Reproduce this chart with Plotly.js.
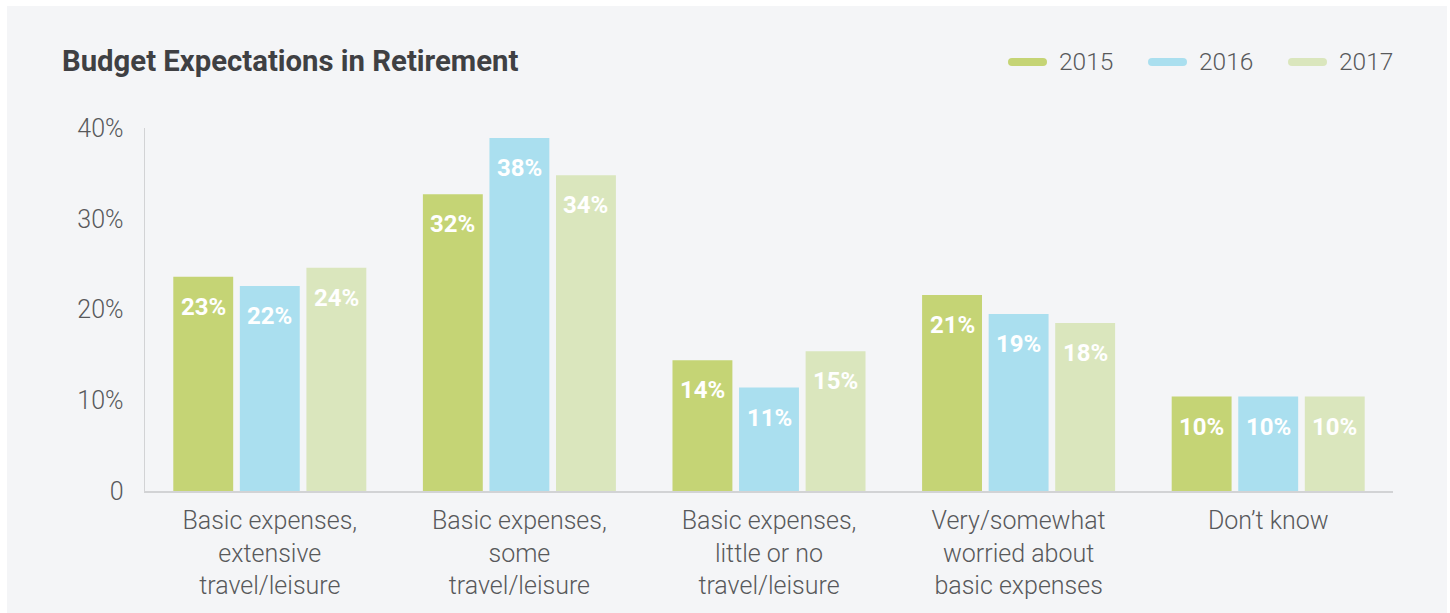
<!DOCTYPE html>
<html>
<head>
<meta charset="utf-8">
<script src="https://cdn.plot.ly/plotly-3.0.1.min.js"></script>
<style>
  html, body { margin: 0; padding: 0; background: #ffffff; }
  #chart { position: absolute; left: 7px; top: 6px; width: 1440px; height: 607px; }
  .shapelayer path { stroke-linecap: round; }
</style>
</head>
<body>
<div id="chart"></div>
<script>
const categories = [
  "Basic expenses,<br>extensive<br>travel/leisure",
  "Basic expenses,<br>some<br>travel/leisure",
  "Basic expenses,<br>little or no<br>travel/leisure",
  "Very/somewhat<br>worried about<br>basic expenses",
  "Don\u2019t know"
];
const seriesNames = ["2015", "2016", "2017"];
const values2015 = [23.6, 32.7, 14.4, 21.6, 10.4];
const values2016 = [22.6, 38.9, 11.4, 19.5, 10.4];
const values2017 = [24.6, 34.8, 15.4, 18.5, 10.4];
const labels2015 = ["23%", "32%", "14%", "21%", "10%"];
const labels2016 = ["22%", "38%", "11%", "19%", "10%"];
const labels2017 = ["24%", "34%", "15%", "18%", "10%"];
const yTickVals = [0, 10, 20, 30, 40];
const yTickText = ["0", "10%", "20%", "30%", "40%"];

const colors = ["#c5d475", "#aadfef", "#dae6bd"];
const allValues = [values2015, values2016, values2017];
const allLabels = [labels2015, labels2016, labels2017];

// plot area in div pixels: left 138, width 1248; top 122, height 363
const PL = 138, PW = 1248, PT = 122, PH = 363;
const px2x = p => (p - PL) / PW;
const px2y = p => (PT + PH - p) / PH;

const traces = allValues.map((vals, i) => ({
  type: "bar",
  x: categories,
  y: vals,
  name: seriesNames[i],
  marker: { color: colors[i] },
  showlegend: false,
  hoverinfo: "skip"
}));

const annotations = [];
const offsets = [-66.5, 0, 66.5];
allValues.forEach((vals, i) => {
  vals.forEach((v, j) => {
    annotations.push({
      x: categories[j], y: v, xref: "x", yref: "y",
      text: allLabels[i][j],
      showarrow: false,
      xanchor: "center", yanchor: "middle",
      xshift: offsets[i], yshift: -30,
      font: { family: "Roboto", size: 24, color: "#ffffff", weight: 700 }
    });
  });
});

// custom legend (line swatch + label)
const shapes = [];
const legendY = 56;           // div px
const legendStart = [1001, 1141, 1281]; // div px, swatch left (incl. round cap)
seriesNames.forEach((n, i) => {
  const x0 = legendStart[i] + 4, x1 = legendStart[i] + 35;
  shapes.push({
    type: "line", xref: "paper", yref: "paper",
    x0: px2x(x0), x1: px2x(x1), y0: px2y(legendY), y1: px2y(legendY),
    line: { color: colors[i], width: 8 }
  });
  annotations.push({
    xref: "paper", yref: "paper",
    x: px2x(legendStart[i] + 49), y: px2y(legendY),
    xanchor: "left", yanchor: "middle",
    text: n, showarrow: false,
    font: { family: "Roboto", size: 24.5, color: "#58595b", weight: 300 }
  });
});

const layout = {
  width: 1440, height: 607,
  paper_bgcolor: "#f4f5f7",
  plot_bgcolor: "#f4f5f7",
  margin: { l: PL, r: 1440 - PL - PW, t: PT, b: 607 - PT - PH },
  font: { family: "Roboto", color: "#58595b" },
  title: {
    text: "Budget Expectations in Retirement",
    font: { family: "Roboto", size: 29.3, color: "#3f4043", weight: 700 },
    xref: "container", x: 55 / 1440, xanchor: "left",
    yref: "container", y: 1 - 55 / 607, yanchor: "middle"
  },
  barmode: "group",
  bargap: 0.2,
  bargroupgap: 0.1,
  xaxis: {
    type: "category",
    showgrid: false,
    showline: true, linecolor: "#d2d3d5", linewidth: 2,
    ticks: "",
    tickfont: { family: "Roboto", size: 25, color: "#58595b", weight: 300 },
    ticklabelstandoff: 6,
    fixedrange: true
  },
  yaxis: {
    range: [0, 40],
    tickvals: yTickVals,
    ticktext: yTickText,
    showgrid: false,
    zeroline: false,
    showline: true, linecolor: "#d2d3d5", linewidth: 1.5,
    ticks: "",
    tickfont: { family: "Roboto", size: 25, color: "#58595b", weight: 300 },
    ticklabelstandoff: 15,
    fixedrange: true
  },
  annotations: annotations,
  shapes: shapes,
  showlegend: false
};

Plotly.newPlot("chart", traces, layout, { displayModeBar: false, staticPlot: true });
</script>
</body>
</html>
